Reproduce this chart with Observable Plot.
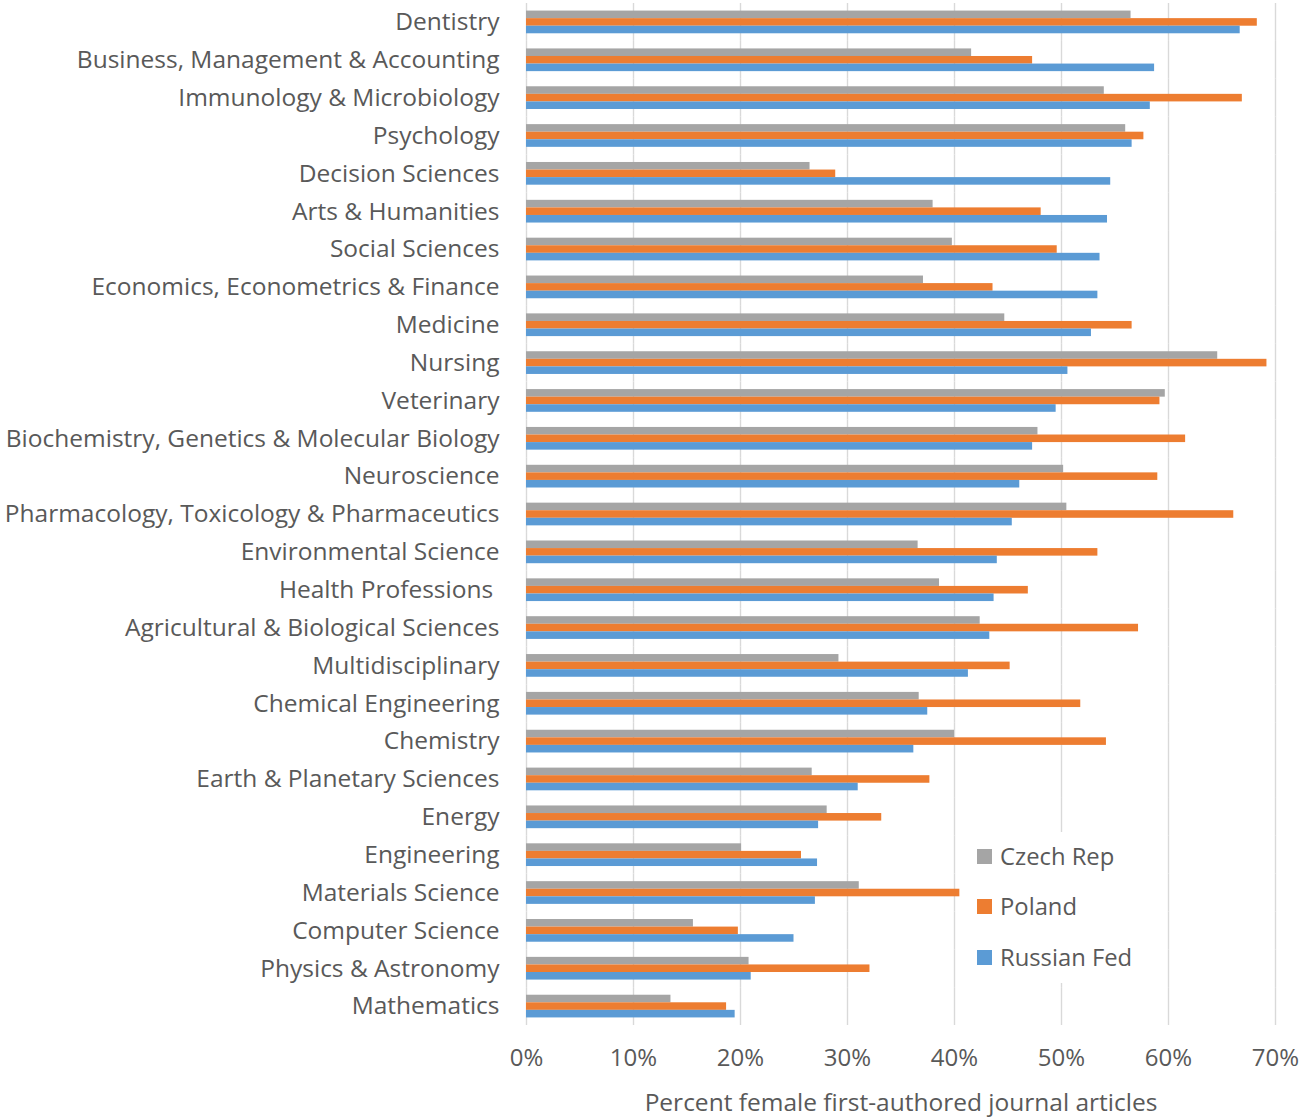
<!DOCTYPE html>
<html>
<head>
<meta charset="utf-8">
<script src="https://cdn.jsdelivr.net/npm/d3@7"></script>
<script src="https://cdn.jsdelivr.net/npm/@observablehq/plot@0.6"></script>
<style>
  html, body { margin: 0; padding: 0; background: #fff; }
  #wrap { position: relative; width: 1303px; height: 1119px; font-family: "Open Sans", sans-serif; color: #595959; }
  #wrap svg text { white-space: pre; }
  #legend { position: absolute; left: 962px; top: 832px; width: 196px; height: 151px; background: #fff; }
  .item { position: absolute; left: 15px; display: flex; align-items: center; font-size: 23.8px; color: #595959; line-height: 1; }
  .sw { width: 15px; height: 15px; margin-right: 8px; }
</style>
</head>
<body>
<div id="wrap"><div id="legend"></div></div>
<script>
const categories = [
  "Dentistry", "Business, Management & Accounting", "Immunology & Microbiology", "Psychology",
  "Decision Sciences", "Arts & Humanities", "Social Sciences", "Economics, Econometrics & Finance",
  "Medicine", "Nursing", "Veterinary", "Biochemistry, Genetics & Molecular Biology", "Neuroscience",
  "Pharmacology, Toxicology & Pharmaceutics", "Environmental Science", "Health Professions ",
  "Agricultural & Biological Sciences", "Multidisciplinary", "Chemical Engineering", "Chemistry",
  "Earth & Planetary Sciences", "Energy", "Engineering", "Materials Science", "Computer Science",
  "Physics & Astronomy", "Mathematics"
];
const countries = ["Czech Rep", "Poland", "Russian Fed"];
const colors = ["#a5a5a5", "#ed7d31", "#5b9bd5"];
const czechRep = [56.5, 41.6, 54.0, 56.0, 26.5, 38.0, 39.8, 37.1, 44.7, 64.6, 59.7, 47.8, 50.2, 50.5, 36.6, 38.6, 42.4, 29.2, 36.7, 40.0, 26.7, 28.1, 20.1, 31.1, 15.6, 20.8, 13.5];
const poland   = [68.3, 47.3, 66.9, 57.7, 28.9, 48.1, 49.6, 43.6, 56.6, 69.2, 59.2, 61.6, 59.0, 66.1, 53.4, 46.9, 57.2, 45.2, 51.8, 54.2, 37.7, 33.2, 25.7, 40.5, 19.8, 32.1, 18.7];
const russianFed = [66.7, 58.7, 58.3, 56.6, 54.6, 54.3, 53.6, 53.4, 52.8, 50.6, 49.5, 47.3, 46.1, 45.4, 44.0, 43.7, 43.3, 41.3, 37.5, 36.2, 31.0, 27.3, 27.2, 27.0, 25.0, 21.0, 19.5];
const xTicks = [0, 0.1, 0.2, 0.3, 0.4, 0.5, 0.6, 0.7];
const xLabel = "Percent female first-authored journal articles";

const series = [czechRep, poland, russianFed];
const rows = [];
categories.forEach((c, i) => countries.forEach((k, j) => rows.push({category: c, country: k, value: series[j][i] / 100})));

const chart = Plot.plot({
  width: 1303,
  height: 1119,
  marginLeft: 526,
  marginRight: 28,
  marginTop: 3,
  marginBottom: 94,
  style: {fontFamily: "Open Sans, sans-serif", color: "#595959", background: "#fff"},
  x: {domain: [0, 0.7]},
  y: {domain: countries, paddingInner: 0, paddingOuter: 1, round: false, axis: null},
  fy: {domain: categories, padding: 0, round: false},
  color: {domain: countries, range: colors},
  marks: [
    Plot.gridX(xTicks, {stroke: "#d9d9d9", strokeOpacity: 1, strokeWidth: 1.4}),
    Plot.barX(rows, {x: "value", y: "country", fy: "category", fill: "country"}),
    Plot.axisFy({anchor: "left", tickSize: 0, tickPadding: 27, fontSize: 24.5, label: null}),
    Plot.axisX({ticks: xTicks, tickFormat: d3.format(".0%"), tickSize: 0, tickPadding: 23, fontSize: 24,
      label: xLabel, labelAnchor: "center", labelArrow: "none", labelOffset: 85})
  ]
});
document.getElementById("wrap").prepend(chart);
chart.querySelectorAll("g[aria-label='x-axis label']").forEach(e => e.setAttribute("font-size", 24.5));

const legend = document.getElementById("legend");
countries.forEach((k, j) => {
  const it = document.createElement("div");
  it.className = "item";
  it.style.top = (12.5 + j * 50.5) + "px";
  it.innerHTML = `<span class="sw" style="background:${colors[j]}"></span><span>${k}</span>`;
  legend.appendChild(it);
});
</script>
</body>
</html>
